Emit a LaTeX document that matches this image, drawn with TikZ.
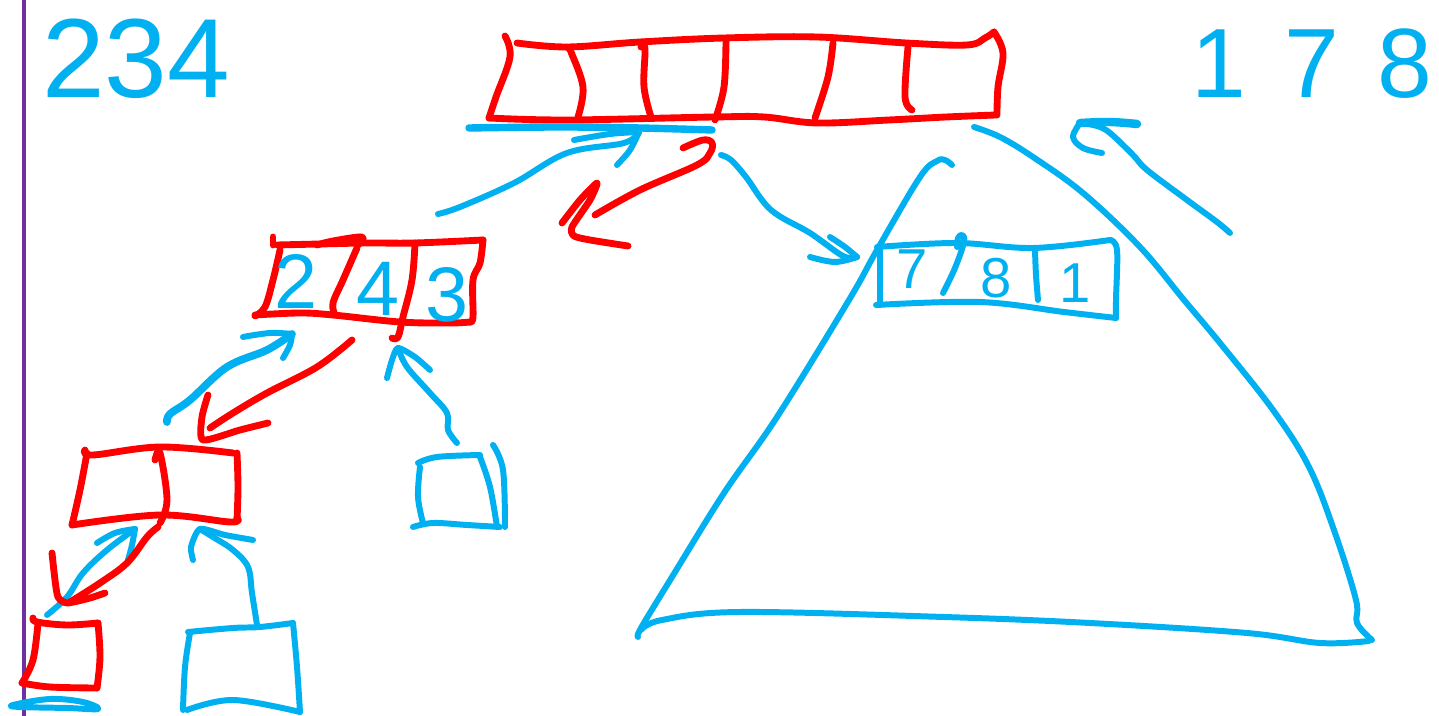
\documentclass[tikz,border=0pt]{standalone}
\usepackage{fontspec}
\setmainfont{Liberation Sans}
\definecolor{penblue}{HTML}{00B0F0}
\definecolor{penred}{HTML}{FF0000}
\definecolor{penpurple}{HTML}{7030A0}
\begin{document}
\begin{tikzpicture}[x=0.01cm, y=-0.01cm, line cap=round, line join=round,
  redpen/.style={draw=penred, line width=1.95pt},
  bluepen/.style={draw=penblue, line width=1.7pt},
  hand/.style={smooth, tension=0.6},
  digit/.style={text=penblue, inner sep=0pt, anchor=base}]
\useasboundingbox (0,0) rectangle (1439,716);
% margin rule
\draw[draw=penpurple, line width=1.15pt] (24,-10) -- (24,726);
% key lists
\node[digit, font=\fontsize{32}{36}\selectfont] (leftkeys) at (136,98) {234};
\node[digit, font=\fontsize{28}{32}\selectfont] (rightkeys) at (1312,98) {1\hspace{11pt}7\hspace{11pt}8};
% ---------- root array ----------
\draw[redpen] plot[hand] coordinates {(505,36) (510,57) (496,97) (489,118)};
\draw[redpen] plot[hand] coordinates {(517,43) (567,47) (640,42) (724,38) (817,37) (906,43) (967,45) (985,38) (994,32)};
\draw[redpen] plot[hand] coordinates {(994,32) (1003,53) (998,87) (997,115)};
\draw[redpen] plot[hand] coordinates {(489,118) (567,120) (714,117) (764,117) (817,123) (889,120) (946,117) (996,115)};
\draw[redpen] plot[hand] coordinates {(568,48) (571,52) (583,87) (578,117)};
\draw[redpen] plot[hand] coordinates {(641,47) (645,49) (644,87) (651,117)};
\draw[redpen] plot[hand] coordinates {(726,40) (724,87) (715,120)};
\draw[redpen] plot[hand] coordinates {(833,43) (828,77) (815,118)};
\draw[redpen] plot[hand] coordinates {(908,47) (905,97) (912,110)};
\coordinate (rootL) at (469,128);
\coordinate (rootM) at (712,130);
\draw[bluepen, line width=2.1pt] plot[hand] coordinates {(rootL) (560,127) (640,128) (rootM)};
% ---------- node 2|4|3 ----------
\draw[redpen] plot[hand] coordinates {(273,237) (273,245)};
\draw[redpen] plot[hand] coordinates {(277,245) (320,244) (367,243) (415,243) (483,240)};
\draw[redpen] plot[hand] coordinates {(317,245) (333,241) (362,237) (358,245)};
\draw[redpen] plot[hand] coordinates {(280,250) (273,280) (265,307) (255,316)};
\draw[redpen] plot[hand] coordinates {(255,315) (300,313) (333,315) (400,322) (450,323) (470,322)};
\draw[redpen] plot[hand] coordinates {(483,240) (480,263) (473,280) (473,317) (470,322)};
\draw[redpen] plot[hand] coordinates {(357,248) (343,280) (333,303) (335,315)};
\draw[redpen] plot[hand] coordinates {(415,243) (412,280) (403,317) (398,337) (392,338)};
\node[digit, font=\fontsize{22}{26}\selectfont] (k2) at (296,309) {2};
\node[digit, font=\fontsize{22}{26}\selectfont] (k4) at (378,316) {4};
\node[digit, font=\fontsize{22}{26}\selectfont] (k3) at (447,322) {3};
% ---------- bottom-left red node ----------
\draw[redpen] plot[hand] coordinates {(85,450) (93,455) (160,447) (233,453)};
\draw[redpen] plot[hand] coordinates {(87,453) (80,490) (72,525)};
\draw[redpen] plot[hand] coordinates {(72,525) (160,515) (230,522) (237,518)};
\draw[redpen] plot[hand] coordinates {(237,453) (238,487) (237,520)};
\draw[redpen] plot[hand] coordinates {(155,460) (160,453) (167,500) (160,523)};
% ---------- small red leaf ----------
\draw[redpen] plot[hand] coordinates {(33,618) (37,622) (67,625) (98,623)};
\draw[redpen] plot[hand] coordinates {(38,623) (33,660) (22,683)};
\draw[redpen] plot[hand] coordinates {(22,683) (50,687) (97,688)};
\draw[redpen] plot[hand] coordinates {(98,623) (100,657) (97,688)};
\draw[bluepen] plot[smooth cycle, tension=0.6] coordinates {(13,705) (50,699) (83,702) (98,709) (67,708) (20,707)};
% ---------- blue leaves ----------
\draw[bluepen] plot[hand] coordinates {(188,632) (233,628) (260,627) (293,623)};
\draw[bluepen] plot[hand] coordinates {(190,633) (185,667) (183,710)};
\draw[bluepen] plot[hand] coordinates {(187,710) (233,700) (300,712)};
\draw[bluepen] plot[hand] coordinates {(293,623) (297,667) (300,712)};
\draw[bluepen] plot[hand] coordinates {(418,463) (437,457) (480,455)};
\draw[bluepen] plot[hand] coordinates {(420,467) (418,497) (423,523)};
\draw[bluepen] plot[hand] coordinates {(413,527) (433,523) (467,525) (500,527)};
\draw[bluepen] plot[hand] coordinates {(480,457) (490,487) (497,527)};
\draw[bluepen] plot[hand] coordinates {(493,445) (503,470) (505,527)};
% ---------- subtree triangle with node 7|8|1 ----------
\draw[bluepen] plot[hand] coordinates {(952,165) (945,160) (937,161) (920,177) (877,250) (849,300) (777,417) (724,493) (672,577) (641,628) (638,637)};
\draw[bluepen] plot[hand] coordinates {(641,630) (662,620) (740,612) (944,617) (1090,623) (1247,633) (1320,643) (1369,641)};
\draw[bluepen] plot[hand] coordinates {(974,127) (1000,137) (1033,157) (1083,193) (1140,247) (1184,300) (1220,343) (1273,410) (1309,467) (1335,533) (1356,600) (1357,623) (1372,640)};
\draw[bluepen] plot[hand] coordinates {(877,247) (957,243) (1033,248) (1110,240)};
\draw[bluepen] plot[hand] coordinates {(1110,240) (1117,250) (1116,300) (1116,318)};
\draw[bluepen] plot[hand] coordinates {(876,305) (980,302) (1064,312) (1116,318)};
\draw[bluepen] plot[hand] coordinates {(880,247) (880,305)};
\draw[bluepen] plot[hand] coordinates {(957,247) (958,238) (962,235) (964,242) (955,268) (943,293)};
\draw[bluepen] plot[hand] coordinates {(1035,250) (1036,275) (1038,300)};
\node[digit, font=\fontsize{16}{19}\selectfont] (k7) at (912,289) {7};
\node[digit, font=\fontsize{16}{19}\selectfont] (k8) at (996,298) {8};
\node[digit, font=\fontsize{16}{19}\selectfont] (k1) at (1075,303) {1};
% ---------- connectors ----------
% node 2|4|3 -> root (blue)
\coordinate (a1s) at (438,214);
\coordinate (a1e) at (639,132);
\draw[bluepen] plot[hand] coordinates {(a1s) (460,207) (514,183) (567,153) (624,143) (a1e)};
\draw[bluepen] plot[hand] coordinates {(574,140) (610,134) (a1e)};
\draw[bluepen] plot[hand] coordinates {(617,165) (630,150) (a1e)};
% root -> down-left (red)
\coordinate (a2s) at (683,148);
\coordinate (a2e) at (595,215);
\draw[redpen] plot[hand] coordinates {(a2s) (703,140) (712,143) (710,153) (697,165) (640,190) (a2e)};
\draw[redpen] plot[smooth, tension=0.4] coordinates {(562,223) (580,200) (597,183) (590,200) (572,227) (574,236) (590,240) (628,246)};
% root -> node 7|8|1 (blue)
\coordinate (a3s) at (721,155);
\coordinate (a3e) at (857,257);
\draw[bluepen] plot[hand] coordinates {(a3s) (731,160) (746,177) (771,210) (810,233) (843,256) (a3e)};
\draw[bluepen] plot[hand] coordinates {(810,257) (835,262) (a3e)};
\draw[bluepen] plot[hand] coordinates {(830,237) (845,247) (a3e)};
% 178 side arrow (blue)
\coordinate (a4s) at (1230,233);
\coordinate (a4e) at (1080,123);
\draw[bluepen] plot[hand] coordinates {(a4s) (1217,222) (1187,200) (1147,170) (1133,155) (1110,133) (1097,126) (a4e)};
\draw[bluepen, line width=2.4pt] plot[hand] coordinates {(a4e) (1110,122) (1137,124)};
\draw[bluepen] plot[hand] coordinates {(a4e) (1073,137) (1083,148) (1102,153)};
% bottom-left node -> node 2|4|3 (blue)
\coordinate (a5s) at (167,422);
\coordinate (a5e) at (292,334);
\draw[bluepen, line width=2.2pt] plot[hand] coordinates {(a5s) (170,414) (190,400) (227,367) (267,350) (a5e)};
\draw[bluepen] plot[hand] coordinates {(243,337) (270,333) (a5e)};
\draw[bluepen] plot[hand] coordinates {(283,358) (290,345) (a5e)};
% node 2|4|3 -> bottom-left node (red)
\coordinate (a6s) at (352,340);
\coordinate (a6e) at (210,428);
\draw[redpen] plot[hand] coordinates {(a6s) (317,367) (267,393) (233,413) (a6e)};
\draw[redpen] plot[smooth, tension=0.4] coordinates {(208,395) (202,417) (203,440) (240,430) (268,423)};
% middle blue leaf -> node 2|4|3 (blue)
\coordinate (a7s) at (457,443);
\coordinate (a7e) at (398,348);
\draw[bluepen] plot[hand] coordinates {(a7s) (448,430) (447,413) (430,393) (407,367) (a7e)};
\draw[bluepen] plot[smooth, tension=0.4] coordinates {(387,378) (392,360) (a7e) (415,357) (430,370)};
% small red leaf -> bottom-left node (blue)
\coordinate (a8s) at (47,615);
\coordinate (a8e) at (135,529);
\draw[bluepen] plot[hand] coordinates {(a8s) (67,597) (83,573) (107,550) (a8e)};
\draw[bluepen] plot[hand] coordinates {(97,543) (115,533) (a8e)};
\draw[bluepen] plot[hand] coordinates {(128,560) (132,545) (a8e)};
% bottom-left node -> small red leaf (red)
\coordinate (a9s) at (158,527);
\coordinate (a9e) at (70,602);
\draw[redpen] plot[hand] coordinates {(a9s) (147,537) (127,563) (100,583) (a9e)};
\draw[redpen] plot[smooth, tension=0.4] coordinates {(52,553) (55,580) (58,597) (67,603) (90,598) (105,593)};
% bottom blue leaf -> bottom-left node (blue)
\coordinate (a10s) at (257,625);
\coordinate (a10e) at (200,529);
\draw[bluepen] plot[hand] coordinates {(a10s) (252,593) (248,567) (233,550) (213,537) (a10e)};
\draw[bluepen] plot[smooth, tension=0.4] coordinates {(193,560) (191,547) (a10e) (225,535) (253,540)};
\end{tikzpicture}
\end{document}
